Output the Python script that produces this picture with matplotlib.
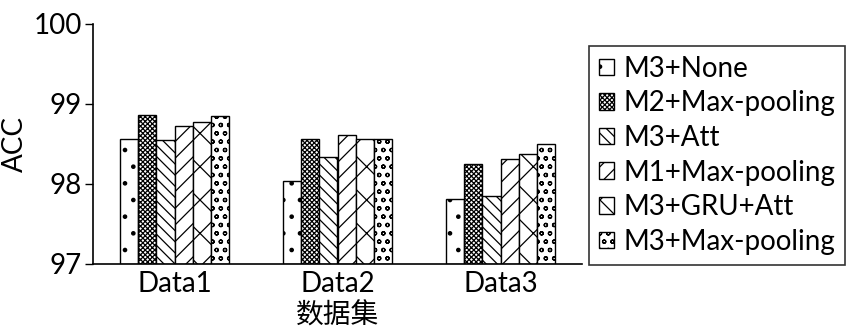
import matplotlib
matplotlib.use("Agg")
import matplotlib.pyplot as plt
import numpy as np

plt.rcParams['font.family'] = ['Lato', 'Noto Sans CJK SC', 'DejaVu Sans']
plt.rcParams['hatch.linewidth'] = 0.9

categories = ['Data1', 'Data2', 'Data3']
series_names = ['M3+None', 'M2+Max-pooling', 'M3+Att', 'M1+Max-pooling', 'M3+GRU+Att', 'M3+Max-pooling']
values = {
    'M3+None':        [98.56, 98.04, 97.81],
    'M2+Max-pooling': [98.86, 98.56, 98.25],
    'M3+Att':         [98.55, 98.34, 97.85],
    'M1+Max-pooling': [98.73, 98.61, 98.31],
    'M3+GRU+Att':     [98.77, 98.56, 98.38],
    'M3+Max-pooling': [98.85, 98.56, 98.50],
}
yticks = [97, 98, 99, 100]
hatches = ['.', 'xxxxxxx', '\\\\\\', '//', 'x', 'oo']

fig = plt.figure(figsize=(8.5, 3.33), dpi=100)
ax = fig.add_axes([93/850, 1-264/333, (582-93)/850, (264-24)/333])

x = np.arange(len(categories))
w = 0.112
for i, name in enumerate(series_names):
    ax.bar(x + (i - 2.5) * w, np.array(values[name]) - 97, w, bottom=97,
           facecolor='white', edgecolor='black', hatch=hatches[i],
           linewidth=1.0, label=name)

ax.set_xlim(-0.5, 2.5)
ax.set_ylim(97, 100)
ax.set_yticks(yticks)
ax.set_yticklabels([str(t) for t in yticks], fontsize=20)
ax.set_xticks(x)
ax.set_xticklabels(categories, fontsize=20)
ax.tick_params(axis='x', length=0, pad=5)
ax.tick_params(axis='y', length=6, width=1, pad=2)
for s in ['top', 'right']:
    ax.spines[s].set_visible(False)
for s in ['left', 'bottom']:
    ax.spines[s].set_linewidth(1.2)
ax.set_ylabel('ACC', fontsize=20, labelpad=4)
ax.set_xlabel('数据集', fontsize=20, family=['Noto Sans CJK SC'], labelpad=3)

leg = fig.legend(loc='upper left', bbox_to_anchor=(589/850, 1-46/333),
                 fontsize=20, frameon=True, fancybox=False, edgecolor='black',
                 handlelength=0.55, handleheight=0.55, handletextpad=0.35,
                 borderpad=0.35, labelspacing=0.31, borderaxespad=0)
leg.get_frame().set_linewidth(1.2)

fig.savefig('out.png', dpi=100)
